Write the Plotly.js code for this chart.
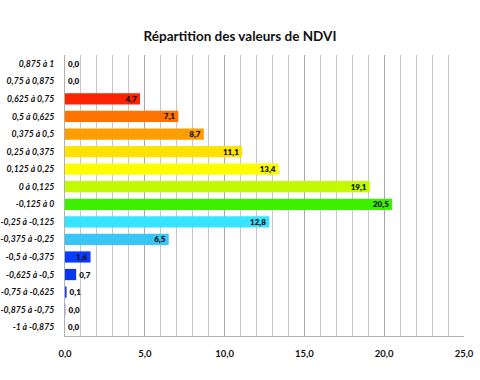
<!DOCTYPE html>
<html><head><meta charset="utf-8">
<script src="https://cdn.plot.ly/plotly-3.0.1.min.js"></script>
<style>html,body{margin:0;padding:0;background:#fff}</style>
</head><body>
<div id="chart" style="width:480px;height:380px"></div>
<script>
var categories = ["-1 à -0,875","-0,875 à -0,75","-0,75 à -0,625","-0,625 à -0,5","-0,5 à -0,375","-0,375 à -0,25","-0,25 à -0,125","-0,125 à 0","0 à 0,125","0,125 à 0,25","0,25 à 0,375","0,375 à 0,5","0,5 à 0,625","0,625 à 0,75","0,75 à 0,875","0,875 à 1"];
var values = [0.0, 0.03, 0.1, 0.7, 1.6, 6.5, 12.8, 20.5, 19.1, 13.4, 11.1, 8.7, 7.1, 4.7, 0.0, 0.0];
var colors = ["#8899cc","#7788cc","#1a3cff","#0a36f0","#0a3cff","#38c6f8","#36e4ff","#3cf000","#c4fa00","#ffff00","#ffe200","#ff9e00","#ff7400","#ff2400","#ffffff","#ffffff"];
var xMajorStep = 5;
var xMinorStep = 1;
var xMax = 25;

var minorTicks = [];
for (var t = 0; t <= xMax; t += xMinorStep) minorTicks.push(t);
var minorText = minorTicks.map(function(v){ return v % xMajorStep === 0 ? v.toFixed(1).replace(".", ",") : ""; });

var textpos = values.map(function(v){ return v >= 1.5 ? "inside" : "outside"; });

var trace = {
  type: "bar", orientation: "h",
  y: categories, x: values,
  marker: {color: colors, line: {width: 0}},
  width: 0.64,
  texttemplate: "%{x:.1f}",
  textposition: textpos,
  insidetextanchor: "end",
  constraintext: "none",
  cliponaxis: false,
  textfont: {family: "Lato, 'DejaVu Sans', sans-serif", size: 8, color: "#111", weight: 800},
  hoverinfo: "none"
};
var gridTrace = {type: "scatter", x: [], y: [], xaxis: "x2", yaxis: "y", showlegend: false, hoverinfo: "none"};

var layout = {
  width: 480, height: 380,
  margin: {l: 65, r: 16, t: 55, b: 44},
  separators: ", ",
  paper_bgcolor: "#fff", plot_bgcolor: "#fff",
  font: {family: "Lato, 'DejaVu Sans', sans-serif", color: "#111"},
  title: {text: "Répartition des valeurs de NDVI", x: 0.5, xanchor: "center", y: 0.905, yanchor: "middle",
          font: {size: 13.5, weight: 700, color: "#111"}},
  showlegend: false,
  xaxis: {
    range: [0, xMax], tickmode: "array", tickvals: minorTicks, ticktext: minorText,
    showgrid: true, gridcolor: "#c6c6c6", gridwidth: 1,
    showline: true, linecolor: "#b0b0b0", linewidth: 1, mirror: false,
    zeroline: false, ticks: "", ticklabelstandoff: 9,
    tickfont: {size: 9.5, weight: 700, color: "#111"}
  },
  xaxis2: {
    overlaying: "x", matches: "x", range: [0, xMax], tickmode: "linear", tick0: 0, dtick: xMajorStep,
    showgrid: true, gridcolor: "#a8a8a8", gridwidth: 1,
    showticklabels: false, showline: false, zeroline: false, ticks: "", side: "bottom"
  },
  yaxis: {
    type: "category", categoryorder: "array", categoryarray: categories,
    showgrid: false, zeroline: false,
    showline: true, linecolor: "#b0b0b0", linewidth: 1,
    ticks: "", ticklabelstandoff: 8,
    tickfont: {size: 8.7, weight: 700, style: "italic", color: "#111"}
  }
};

Plotly.newPlot("chart", [trace, gridTrace], layout, {displayModeBar: false, staticPlot: true});
</script>
</body></html>
